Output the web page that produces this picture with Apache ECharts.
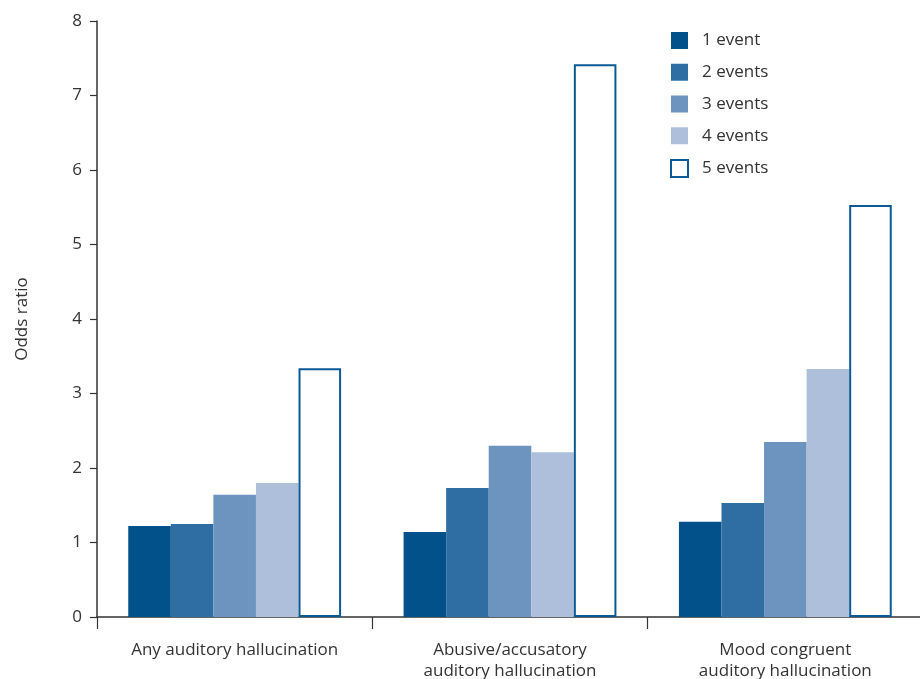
<!DOCTYPE html>
<html>
<head>
<meta charset="utf-8">
<script src="https://cdn.jsdelivr.net/npm/echarts@6/dist/echarts.min.js"></script>
<style>
html,body{margin:0;padding:0;background:#fff;overflow:hidden;}
#c{width:920px;height:679px;}
</style>
</head>
<body>
<div id="c"></div>
<script>
const categories = ["Any auditory hallucination", "Abusive/accusatory\nauditory hallucination", "Mood congruent\nauditory hallucination"];
const seriesNames = ["1 event", "2 events", "3 events", "4 events", "5 events"];
const event1 = [1.22, 1.14, 1.28];
const event2 = [1.25, 1.73, 1.53];
const event3 = [1.64, 2.30, 2.35];
const event4 = [1.80, 2.21, 3.33];
const event5 = [3.34, 7.42, 5.53];
const yTicks = [0, 1, 2, 3, 4, 5, 6, 7, 8];

const values = [event1, event2, event3, event4, event5];
const fills = ["#03518b", "#2e6ea3", "#6d93bf", "#adbfdb", "#ffffff"];
const font = "'Open Sans', 'Liberation Sans', sans-serif";

const chart = echarts.init(document.getElementById('c'), null, {renderer: 'canvas'});
chart.setOption({
  animation: false,
  textStyle: {fontFamily: font},
  grid: {left: 97, right: -3, top: 21, bottom: 62, containLabel: false, outerBoundsMode: 'none'},
  legend: {
    orient: 'vertical',
    left: 670,
    top: 32,
    padding: 0,
    itemWidth: 17,
    itemHeight: 17,
    itemGap: 14.75,
    icon: 'rect',
    textStyle: {fontSize: 17, color: '#333', fontFamily: font, padding: [0, 0, 0, 9]},
    data: seriesNames
  },
  xAxis: {
    type: 'category',
    data: categories,
    axisLine: {lineStyle: {color: '#333', width: 1.5}},
    axisTick: {show: true, length: 12, lineStyle: {color: '#333', width: 1.2}},
    axisLabel: {fontSize: 17, color: '#333', margin: 23, lineHeight: 21, fontFamily: font, interval: 0}
  },
  yAxis: {
    type: 'value',
    min: yTicks[0],
    max: yTicks[yTicks.length - 1],
    interval: 1,
    name: 'Odds ratio',
    nameLocation: 'middle',
    nameGap: 66,
    nameTextStyle: {fontSize: 17, color: '#333', fontFamily: font},
    splitLine: {show: false},
    axisLine: {show: true, lineStyle: {color: '#333', width: 1.5}},
    axisTick: {show: true, length: 7, lineStyle: {color: '#333', width: 1.2}},
    axisLabel: {fontSize: 17, color: '#333', margin: 15, fontFamily: font}
  },
  series: seriesNames.map((n, i) => ({
    name: n,
    type: 'bar',
    data: values[i],
    barGap: '0%',
    barCategoryGap: '22.7%',
    itemStyle: i === 4
      ? {color: '#ffffff', borderColor: '#0b5a95', borderWidth: 2}
      : {color: fills[i]}
  }))
});
</script>
</body>
</html>
